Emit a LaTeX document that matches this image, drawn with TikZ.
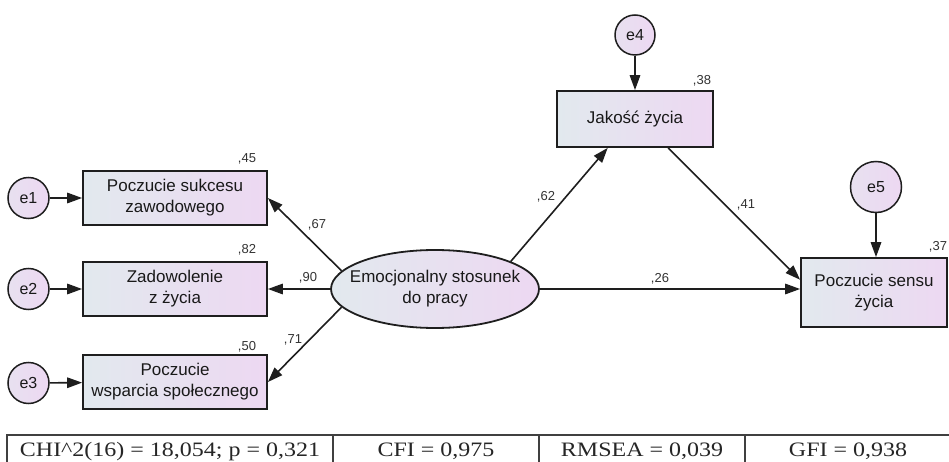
\documentclass[tikz,border=0pt]{standalone}
\usepackage{fontspec}
\setmainfont{Liberation Sans}
\newfontfamily\tabfont{Liberation Serif}
\usetikzlibrary{shapes.geometric,arrows.meta,calc}
\definecolor{gl}{RGB}{226,233,238}
\definecolor{gr}{RGB}{237,216,242}
\definecolor{edgec}{RGB}{30,30,30}
\begin{document}
\begin{tikzpicture}[x=1pt,y=-1pt,
 obs/.style={draw=edgec,line width=1.8pt,rectangle,left color=gl,right color=gr,
   minimum width=184pt,minimum height=54pt,inner sep=0pt,align=center,
   font=\fontsize{17}{21}\selectfont,text=black!90},
 err/.style={draw=edgec,line width=1.5pt,circle,left color=gl!50!gr,right color=gr,
   inner sep=0pt,minimum size=41pt,font=\fontsize{16}{19}\selectfont,text=black!90},
 lat/.style={draw=edgec,line width=1.8pt,ellipse,left color=gl,right color=gr,
   minimum width=208pt,minimum height=78pt,inner xsep=-14pt,inner ysep=0pt,align=center,
   font=\fontsize{17}{21}\selectfont,text=black!90},
 coef/.style={font=\fontsize{13}{15}\selectfont,text=black!80,inner sep=0pt},
 arr/.style={draw=edgec,line width=1.6pt,-{Triangle[length=15pt,width=10.5pt]}},
 tabtxt/.style={font=\tabfont\fontsize{20.5}{24}\selectfont,anchor=base,inner sep=0pt,text=black!85},
 tabline/.style={draw=black!75,line width=1.1pt}]
\useasboundingbox[fill=white] (0,0) rectangle (949,462);

% observed variables
\node[obs] (b1) at (175,198) {Poczucie sukcesu\\zawodowego};
\node[obs] (b2) at (175,289) {Zadowolenie\\z życia};
\node[obs] (b3) at (175,382) {Poczucie\\wsparcia społecznego};
\node[obs,minimum width=156pt,minimum height=56pt] (jak) at (635,119) {Jakość życia};
\node[obs,minimum width=146pt,minimum height=69pt] (sen) at (874,292.5) {Poczucie sensu\\życia};

% latent
\node[lat] (ell) at (435,289) {Emocjonalny stosunek\\do pracy};

% errors
\node[err] (e1) at (28.5,198) {e1};
\node[err] (e2) at (28.5,289) {e2};
\node[err] (e3) at (28.5,383) {e3};
\node[err,minimum size=40pt] (e4) at (635,35) {e4};
\node[err,minimum size=51pt] (e5) at (876,187) {e5};

% arrows
\draw[arr] (e1) -- (b1);
\draw[arr] (e2) -- (b2);
\draw[arr] (e3) -- (b3);
\draw[arr] (e4) -- (jak);
\draw[arr] (e5) -- (e5 |- sen.north);
\draw[arr] (ell.169) -- (b1.east);
\draw[arr] (ell.west) -- (b2.east);
\draw[arr] (ell.191) -- (b3.east);
\draw[arr] (ell.20) -- ($(jak.south west)!0.327!(jak.south east)$);
\draw[arr] ($(jak.south west)!0.71!(jak.south east)$) -- ($(sen.north west)!0.32!(sen.south west)$);
\draw[arr] (ell.east) -- (ell.east -| sen.west);

% coefficients
\node[coef] (c45) at (247,158.5) {,45};
\node[coef] (c82) at (247,250) {,82};
\node[coef] (c50) at (247,347) {,50};
\node[coef] (c67) at (317,225) {,67};
\node[coef] (c90) at (308,278) {,90};
\node[coef] (c71) at (293,340) {,71};
\node[coef] (c62) at (546,197) {,62};
\node[coef] (c41) at (746,205) {,41};
\node[coef] (c26) at (660,279) {,26};
\node[coef] (c38) at (702,81) {,38};
\node[coef] (c37) at (938,247) {,37};

% fit table
\draw[tabline] (7,462) -- (7,435) -- (951,435);
\draw[tabline] (333,435) -- (333,462);
\draw[tabline] (539,435) -- (539,462);
\draw[tabline] (745,435) -- (745,462);
\node[tabtxt] (t1) at (170,456) {\scalebox{1.17}[1]{CHI\^{}2(16) = 18,054; p = 0,321}};
\node[tabtxt] (t2) at (436,456) {\scalebox{1.17}[1]{CFI = 0,975}};
\node[tabtxt] (t3) at (642,456) {\scalebox{1.17}[1]{RMSEA = 0,039}};
\node[tabtxt] (t4) at (848,456) {\scalebox{1.17}[1]{GFI = 0,938}};
\end{tikzpicture}
\end{document}
